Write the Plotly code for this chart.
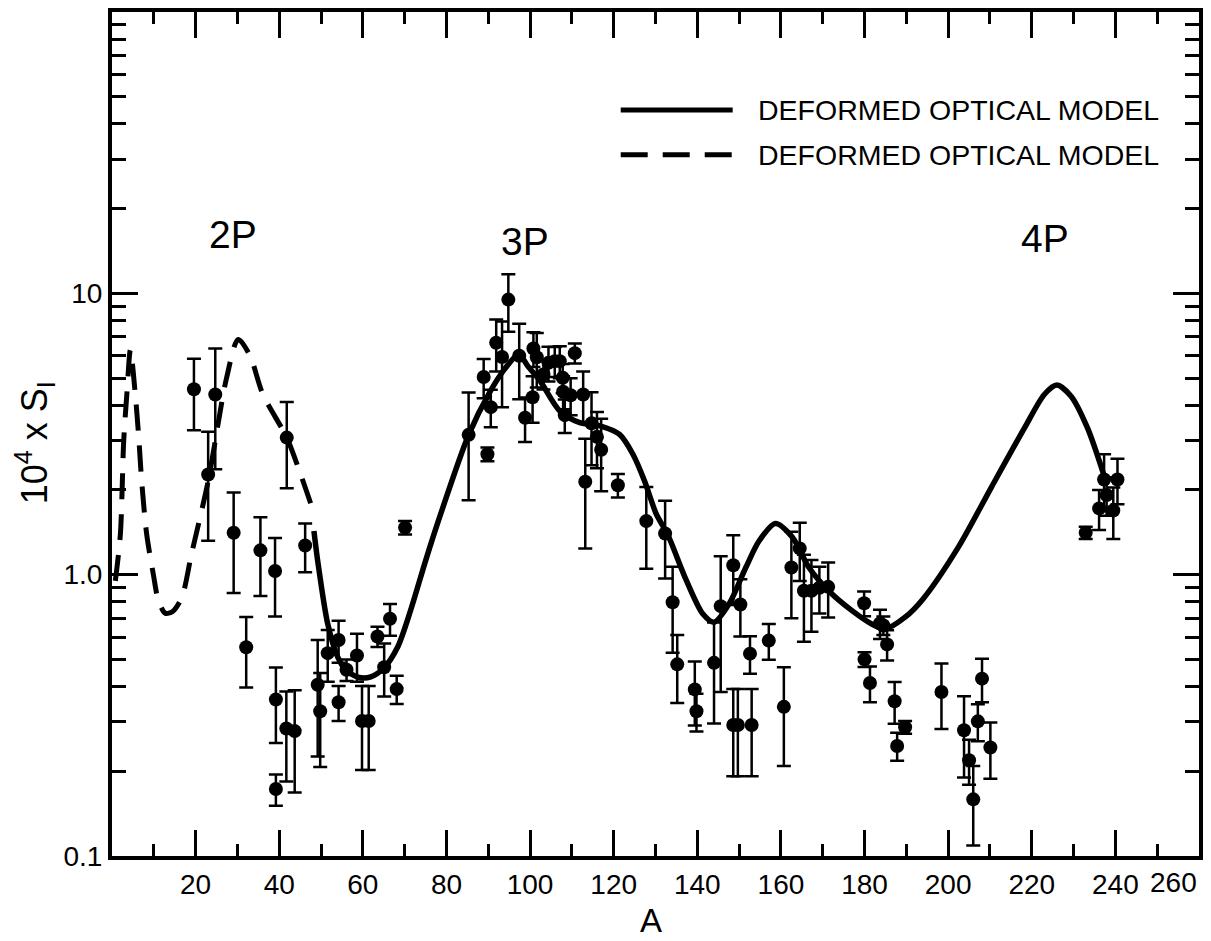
import plotly.graph_objects as go

# Measured strength function 10^4 x S (mass number A, value, error)
mass_A = [19.6, 23.0, 24.7, 29.1, 32.1, 35.5, 39.0, 39.2, 39.2, 41.7, 41.8, 43.7, 46.2,
          49.2, 49.8, 51.6, 54.2, 54.2, 56.1, 58.6, 59.8, 61.4, 63.5, 65.1, 66.5, 68.1, 70.1,
          85.3, 88.9, 89.8, 90.6, 91.9, 93.3, 94.8, 97.4, 98.8, 100.6, 100.8, 101.6, 103.2,
          104.4, 105.9, 107.1, 107.8, 107.9, 108.3, 109.7, 110.7, 112.7, 113.2, 114.7, 116.0,
          117.0, 121.0, 127.8, 132.3, 134.1, 135.2, 139.4, 139.8, 144.0, 145.6, 148.6, 148.6,
          149.7, 150.3, 152.6, 153.0, 157.1, 160.7, 162.5, 164.5, 165.5, 167.3, 169.2, 171.3,
          179.9, 180.0, 181.3, 183.7, 184.5, 185.4, 187.2, 187.8, 189.7, 198.4, 203.8, 205.0,
          206.0, 207.1, 208.1, 210.1, 232.9, 236.1, 237.3, 237.9, 239.5, 240.5]
strength = [4.56, 2.27, 4.37, 1.41, 0.552, 1.22, 1.03, 0.36, 0.173, 0.284, 3.07, 0.278, 1.27,
            0.406, 0.327, 0.526, 0.586, 0.352, 0.459, 0.516, 0.302, 0.302, 0.603, 0.469, 0.697,
            0.392, 1.47,
            3.14, 5.04, 2.68, 3.94, 6.67, 5.94, 9.5, 6.0, 3.61, 4.27, 6.37, 5.93, 5.15,
            5.66, 5.74, 5.74, 5.01, 4.47, 3.69, 4.34, 6.13, 4.37, 2.14, 3.45, 3.09,
            2.78, 2.08, 1.55, 1.40, 0.798, 0.48, 0.391, 0.327, 0.486, 0.773, 1.08, 0.292,
            0.292, 0.783, 0.524, 0.292, 0.583, 0.339, 1.06, 1.24, 0.877, 0.877, 0.898, 0.905,
            0.791, 0.50, 0.412, 0.671, 0.66, 0.565, 0.355, 0.246, 0.287, 0.383, 0.28, 0.219,
            0.159, 0.301, 0.427, 0.243, 1.41, 1.72, 2.18, 1.92, 1.69, 2.18]
strength_err = [1.3, 0.95, 2.0, 0.55, 0.155, 0.38, 0.32, 0.108, 0.022, 0.10, 1.04, 0.11, 0.25,
                0.18, 0.12, 0.11, 0.10, 0.05, 0.04, 0.10, 0.10, 0.10, 0.05, 0.10, 0.09,
                0.045, 0.08,
                1.3, 0.8, 0.15, 0.6, 1.4, 2.0, 2.2, 1.8, 0.65, 0.8, 0.9, 1.3, 0.6,
                0.8, 0.7, 0.75, 0.6, 0.6, 0.5, 0.65, 0.5, 0.9, 0.9, 1.0, 0.7,
                0.8, 0.2, 0.5, 0.43, 0.27, 0.13, 0.10, 0.05, 0.19, 0.39, 0.30, 0.10,
                0.10, 0.18, 0.08, 0.10, 0.085, 0.13, 0.36, 0.29, 0.30, 0.25, 0.17, 0.20,
                0.08, 0.03, 0.06, 0.08, 0.05, 0.07, 0.06, 0.028, 0.015, 0.10, 0.09, 0.04,
                0.05, 0.045, 0.075, 0.055, 0.07, 0.28, 0.5, 0.3, 0.35, 0.4]

# Deformed optical model, solid curve
solid_A = [48.3, 49.2, 51.6, 54.0, 56.0, 59.1, 61.9, 65.1, 68.3, 71.4, 75.0, 78.6, 85.3,
           90.5, 94.0, 97.3, 99.5, 102.4, 107.1, 111.9, 116.7, 121.4, 124.6, 127.4, 130.2,
           132.9, 137.3, 141.3, 144.0, 147.6, 151.6, 154.8, 158.7, 162.7, 166.7, 171.4,
           177.0, 181.7, 184.9, 189.7, 194.0, 202.4, 210.3, 218.3, 223.0, 226.0, 229.4,
           233.3, 237.5]
solid_S = [1.43, 1.12, 0.668, 0.509, 0.457, 0.431, 0.433, 0.467, 0.552, 0.745, 1.12, 1.64, 3.14,
           4.49, 5.4, 6.06, 5.5, 4.88, 3.82, 3.47, 3.38, 3.15, 2.68, 2.15, 1.64,
           1.39, 0.96, 0.726, 0.678, 0.787, 1.06, 1.32, 1.52, 1.36, 1.06, 0.877,
           0.745, 0.668, 0.641, 0.706, 0.82, 1.25, 2.04, 3.33, 4.37, 4.72, 4.31,
           3.33, 2.2]

# Deformed optical model, dashed curve
dashed_A = [0.8, 2.0, 2.8, 3.6, 4.4, 5.5, 6.4, 7.1, 8.3, 9.9, 11.0, 12.7, 14.5, 16.7, 19.0,
            23.0, 27.4, 30.2, 33.0, 36.1, 41.8, 45.0, 48.4]
dashed_S = [0.95, 1.39, 2.99, 4.49, 6.3, 4.49, 3.07, 2.15, 1.39, 1.0, 0.82, 0.73, 0.74, 0.83,
            1.18, 2.15, 5.0, 6.86, 6.0, 4.37, 3.07, 2.3, 1.64]

x_tick_vals = [20, 40, 60, 80, 100, 120, 140, 160, 180, 200, 220, 240]
x_tick_text = ["20", "40", "60", "80", "100", "120", "140", "160", "180", "200", "220", "240"]
x_last_label = "260"
y_tick_vals = [0.1, 1.0, 10.0]
y_tick_text = ["0.1", "1.0", "10"]
y_minor_vals = [m * 10 ** e for e in (-1, 0, 1) for m in range(2, 10)]

peak_labels = ["2P", "3P", "4P"]
legend_labels = ["DEFORMED OPTICAL MODEL", "DEFORMED OPTICAL MODEL"]

FONT = "Liberation Sans, Arial, Helvetica, sans-serif"
TICK_SIZE = 28

fig = go.Figure()

fig.add_trace(go.Scatter(
    x=dashed_A, y=dashed_S, mode="lines",
    line=dict(color="black", width=5, dash="26px,15px", shape="spline", smoothing=0.8),
    showlegend=False, hoverinfo="skip"))

fig.add_trace(go.Scatter(
    x=solid_A, y=solid_S, mode="lines",
    line=dict(color="black", width=5.5, shape="spline", smoothing=0.8),
    showlegend=False, hoverinfo="skip"))

fig.add_trace(go.Scatter(
    x=mass_A, y=strength, mode="markers",
    marker=dict(color="black", size=14, symbol="circle"),
    error_y=dict(type="data", array=strength_err, visible=True,
                 color="black", thickness=2.5, width=7),
    showlegend=False))

# legend drawn as line samples with text
for i, (label, dash) in enumerate(zip(legend_labels, ["solid", "27px,15px"])):
    yy = [0.884, 0.831][i]
    fig.add_shape(type="line", xref="paper", yref="paper",
                  x0=0.468, x1=0.571, y0=yy, y1=yy,
                  line=dict(color="black", width=5, dash=dash))
    fig.add_annotation(text=label, xref="paper", yref="paper", x=0.592, y=yy,
                       xanchor="left", yanchor="middle", showarrow=False,
                       font=dict(family=FONT, size=28.5, color="black"))

for label, px, py in zip(peak_labels, [0.111, 0.380, 0.858], [0.736, 0.728, 0.732]):
    fig.add_annotation(text=label, xref="paper", yref="paper", x=px, y=py,
                       xanchor="center", yanchor="middle", showarrow=False,
                       font=dict(family=FONT, size=39, color="black"))

# axis titles and the right-most x label
fig.add_annotation(text="A", xref="paper", yref="paper", x=0.496, y=-0.076,
                   xanchor="center", yanchor="middle", showarrow=False,
                   font=dict(family=FONT, size=33, color="black"))
fig.add_annotation(text="10<sup>4</sup> x S<sub>I</sub>", xref="paper", yref="paper",
                   x=-0.071, y=0.49, xanchor="center", yanchor="middle",
                   textangle=-90, showarrow=False,
                   font=dict(family=FONT, size=36, color="black"))
fig.add_annotation(text=x_last_label, xref="paper", yref="paper", x=1.0, y=-0.031,
                   xanchor="right", yanchor="middle", showarrow=False,
                   font=dict(family=FONT, size=TICK_SIZE, color="black"))

fig.update_xaxes(
    range=[0, 260], showline=True, linecolor="black", linewidth=4, mirror="ticks",
    ticks="inside", ticklen=26, tickwidth=2.5, tickcolor="black",
    tickvals=x_tick_vals, ticktext=x_tick_text,
    tickfont=dict(family=FONT, size=TICK_SIZE, color="black"),
    minor=dict(ticks="inside", ticklen=12, tickwidth=2.5, tickcolor="black",
               tick0=0, dtick=10),
    showgrid=False, zeroline=False)

fig.update_yaxes(
    type="log", range=[-1, 2], showline=True, linecolor="black", linewidth=4,
    mirror="ticks", ticks="inside", ticklen=26, tickwidth=2.5, tickcolor="black",
    tickvals=y_tick_vals, ticktext=y_tick_text,
    tickfont=dict(family=FONT, size=TICK_SIZE, color="black"),
    minor=dict(ticks="inside", ticklen=14, tickwidth=2.5, tickcolor="black",
               tickvals=y_minor_vals),
    showgrid=False, zeroline=False)

fig.update_layout(
    width=1211, height=941,
    margin=dict(l=112, r=8, t=10, b=85),
    paper_bgcolor="white", plot_bgcolor="white",
    showlegend=False)

fig.write_html("out.html")
